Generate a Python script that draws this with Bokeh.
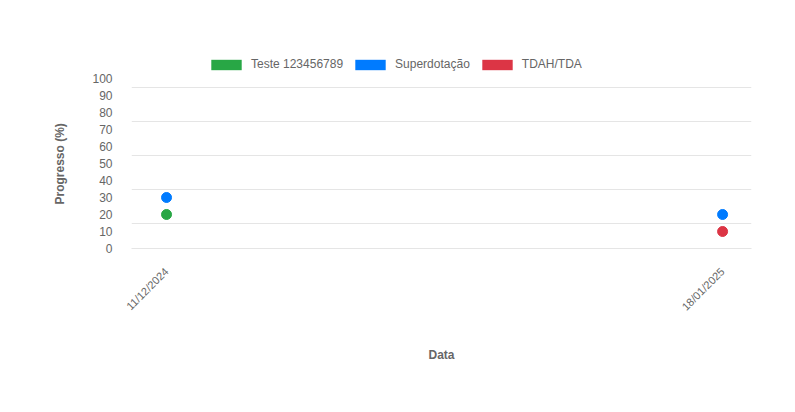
from bokeh.plotting import figure
from bokeh.models import FixedTicker, Legend, LegendItem, Title
from bokeh.embed import file_html
from bokeh.resources import INLINE
import math

dates = ["11/12/2024", "18/01/2025"]
series_names = ["Teste 123456789", "Superdotação", "TDAH/TDA"]
series_values = [
    [20, None],
    [30, 20],
    [None, 10],
]
colors = ["#28a745", "#007bff", "#dc3545"]
y_ticks = [0, 10, 20, 30, 40, 50, 60, 70, 80, 90, 100]

FONT = "Liberation Sans"
GRAY = "#666666"

p = figure(width=795, height=412, output_backend="svg", toolbar_location=None,
           x_range=(-0.063, 1.052), y_range=(0, 116.47),
           min_border_left=131, min_border_right=44, min_border_top=50, min_border_bottom=164)
p.outline_line_color = None
p.background_fill_color = "white"

items = []
for name, vals, c in zip(series_names, series_values, colors):
    xs = [i for i, v in enumerate(vals) if v is not None]
    ys = [v for v in vals if v is not None]
    # zero-size legend swatch proxy (hidden under the points)
    proxy = p.rect(x=xs, y=ys, width=0, height=0, fill_color=c, line_color=None)
    p.scatter(xs, ys, size=10, fill_color=c, line_color=c)
    items.append(LegendItem(label=name, renderers=[proxy]))

legend = Legend(items=items, orientation="horizontal", location=(76, 177),
                glyph_width=38, glyph_height=13, label_height=14, label_standoff=6, spacing=8,
                padding=0, margin=0, border_line_color=None, background_fill_alpha=0,
                label_text_font=FONT, label_text_font_size="12px", label_text_color=GRAY)
p.add_layout(legend, "center")

# y axis
p.yaxis.ticker = FixedTicker(ticks=y_ticks)
p.yaxis.axis_line_color = None
p.yaxis.major_tick_line_color = None
p.yaxis.minor_tick_line_color = None
p.yaxis.major_label_standoff = 13
p.yaxis.major_label_text_font = FONT
p.yaxis.major_label_text_font_size = "12px"
p.yaxis.major_label_text_color = GRAY

ytitle = Title(text="Progresso (%)", align="left", offset=44, standoff=45,
               text_font=FONT, text_font_size="12px", text_font_style="bold",
               text_color=GRAY)
p.add_layout(ytitle, "left")

p.ygrid.ticker = FixedTicker(ticks=[14.7, 34.7, 54.7, 74.7, 94.7])
p.ygrid.grid_line_color = "#e5e5e5"
p.xgrid.grid_line_color = None

# x axis
p.xaxis.ticker = FixedTicker(ticks=[0, 1])
p.xaxis.major_label_overrides = {0: dates[0], 1: dates[1]}
p.xaxis.major_label_orientation = math.pi / 4
p.xaxis.axis_line_color = "#e5e5e5"
p.xaxis.major_tick_line_color = None
p.xaxis.minor_tick_line_color = None
p.xaxis.major_label_standoff = 15
p.xaxis.major_label_text_font = FONT
p.xaxis.major_label_text_font_size = "11px"
p.xaxis.major_label_text_color = GRAY
p.xaxis.axis_label = "Data"
p.xaxis.axis_label_text_font = FONT
p.xaxis.axis_label_text_font_size = "12px"
p.xaxis.axis_label_text_font_style = "bold"
p.xaxis.axis_label_text_color = GRAY
p.xaxis.axis_label_standoff = 28

open("out.html", "w").write(file_html(p, INLINE))
